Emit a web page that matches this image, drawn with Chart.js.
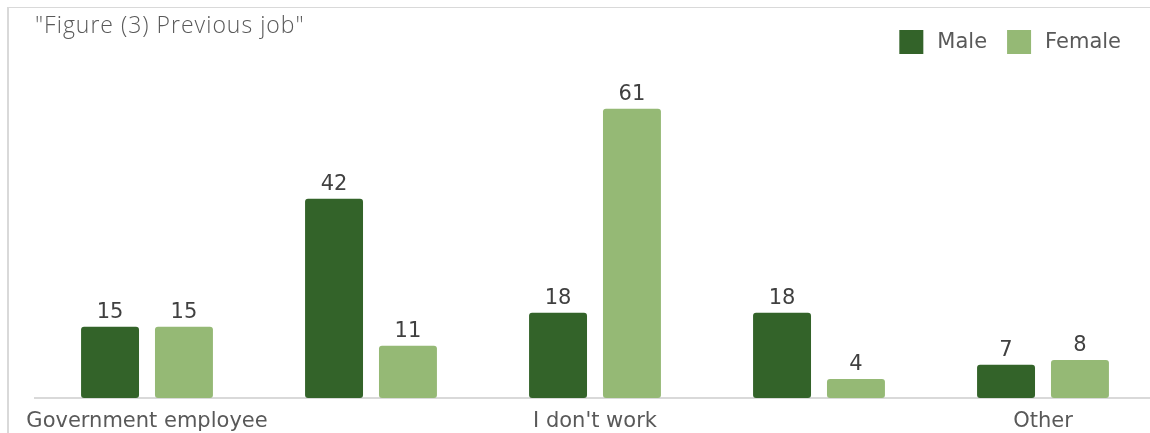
<!DOCTYPE html>
<html lang="en">
<head>
    <meta charset="UTF-8">
    <title>Previous job</title>
    <script src="https://cdn.jsdelivr.net/npm/chart.js@4"></script>
    <style>
        html, body { margin: 0; padding: 0; background: #fff; overflow: hidden; }
        /* plot runs a few px past the right edge of the window */
        #wrap { width: 1155px; height: 433px; position: relative; }
    </style>
</head>
<body>
<div id="wrap">
    <canvas id="jobs"></canvas>
</div>
<script>
    var categories = ["Government employee", "Private sector employee", "I don't work", "Self-employed", "Other"];
    var shownLabels = [0, 2, 4];
    var maleValues = [15, 42, 18, 18, 7];
    var femaleValues = [15, 11, 61, 4, 8];
    var seriesNames = ["Male", "Female"];
    var seriesColors = ['#336329', '#95b975'];
    var chartTitle = '"Figure (3) Previous job"';

    var labelFont = '21px "DejaVu Sans", sans-serif';

    // frame lines, title top left and legend top right
    var framePlugin = {
        id: 'frame',
        beforeDraw: function (chart) {
            var ctx = chart.ctx;
            ctx.save();
            ctx.fillStyle = '#fff';
            ctx.fillRect(0, 0, chart.width, chart.height);
            ctx.fillStyle = '#d9d9d9';
            ctx.fillRect(7, 7, 2, chart.height - 7);
            ctx.fillRect(7, 7, chart.width - 7, 1);

            ctx.fillStyle = '#595959';
            ctx.font = '300 23px "Open Sans", "Liberation Sans", sans-serif';
            ctx.letterSpacing = '1px';
            ctx.textBaseline = 'alphabetic';
            ctx.textAlign = 'left';
            ctx.fillText(chartTitle, 35, 33);
            ctx.letterSpacing = '0px';

            // legend, laid out from the right edge
            ctx.font = labelFont;
            ctx.textBaseline = 'middle';
            var x = 1121;
            var boxY = 30, box = 24;
            for (var i = seriesNames.length - 1; i >= 0; i--) {
                var w = ctx.measureText(seriesNames[i]).width;
                x -= w;
                ctx.fillStyle = '#595959';
                ctx.fillText(seriesNames[i], x, boxY + box / 2 + 1);
                x -= 14 + box;
                ctx.fillStyle = seriesColors[i];
                ctx.fillRect(x, boxY, box, box);
                x -= 20;
            }
            ctx.restore();
        }
    };

    // value written above each bar
    var valueLabels = {
        id: 'valueLabels',
        afterDatasetsDraw: function (chart) {
            var ctx = chart.ctx;
            ctx.save();
            ctx.fillStyle = '#404040';
            ctx.font = labelFont;
            ctx.textAlign = 'center';
            ctx.textBaseline = 'alphabetic';
            chart.data.datasets.forEach(function (ds, i) {
                chart.getDatasetMeta(i).data.forEach(function (bar, j) {
                    ctx.fillText(ds.data[j], bar.x, bar.y - 9);
                });
            });
            ctx.restore();
        }
    };

    var maleDataSet = {
        label: seriesNames[0],
        backgroundColor: seriesColors[0],
        data: maleValues
    };

    var femaleDataSet = {
        label: seriesNames[1],
        backgroundColor: seriesColors[1],
        data: femaleValues
    };

    var jobs = document.getElementById('jobs').getContext('2d');
    var jobChart = new Chart(jobs, {
        type: 'bar',
        data: {
            labels: categories,
            datasets: [maleDataSet, femaleDataSet]
        },
        plugins: [framePlugin, valueLabels],
        options: {
            responsive: true,
            maintainAspectRatio: false,
            animation: false,
            datasets: {
                bar: {
                    categoryPercentage: 0.66,
                    barPercentage: 0.784,
                    borderRadius: 3,
                    borderSkipped: false
                }
            },
            layout: {
                padding: { left: 35, right: 0, top: 66, bottom: -12 }
            },
            plugins: {
                title: { display: false },
                legend: { display: false },
                tooltip: { enabled: false }
            },
            scales: {
                x: {
                    grid: { display: false, drawTicks: false },
                    border: { display: true, color: '#d9d9d9', width: 2 },
                    ticks: {
                        autoSkip: false,
                        maxRotation: 0,
                        padding: 13,
                        color: '#595959',
                        font: { family: '"DejaVu Sans", sans-serif', size: 21, lineHeight: 1 },
                        callback: function (value, index) {
                            return shownLabels.indexOf(index) >= 0 ? categories[index] : '';
                        }
                    }
                },
                y: {
                    display: false,
                    min: 0,
                    max: 70
                }
            }
        }
    });
</script>
</body>
</html>
